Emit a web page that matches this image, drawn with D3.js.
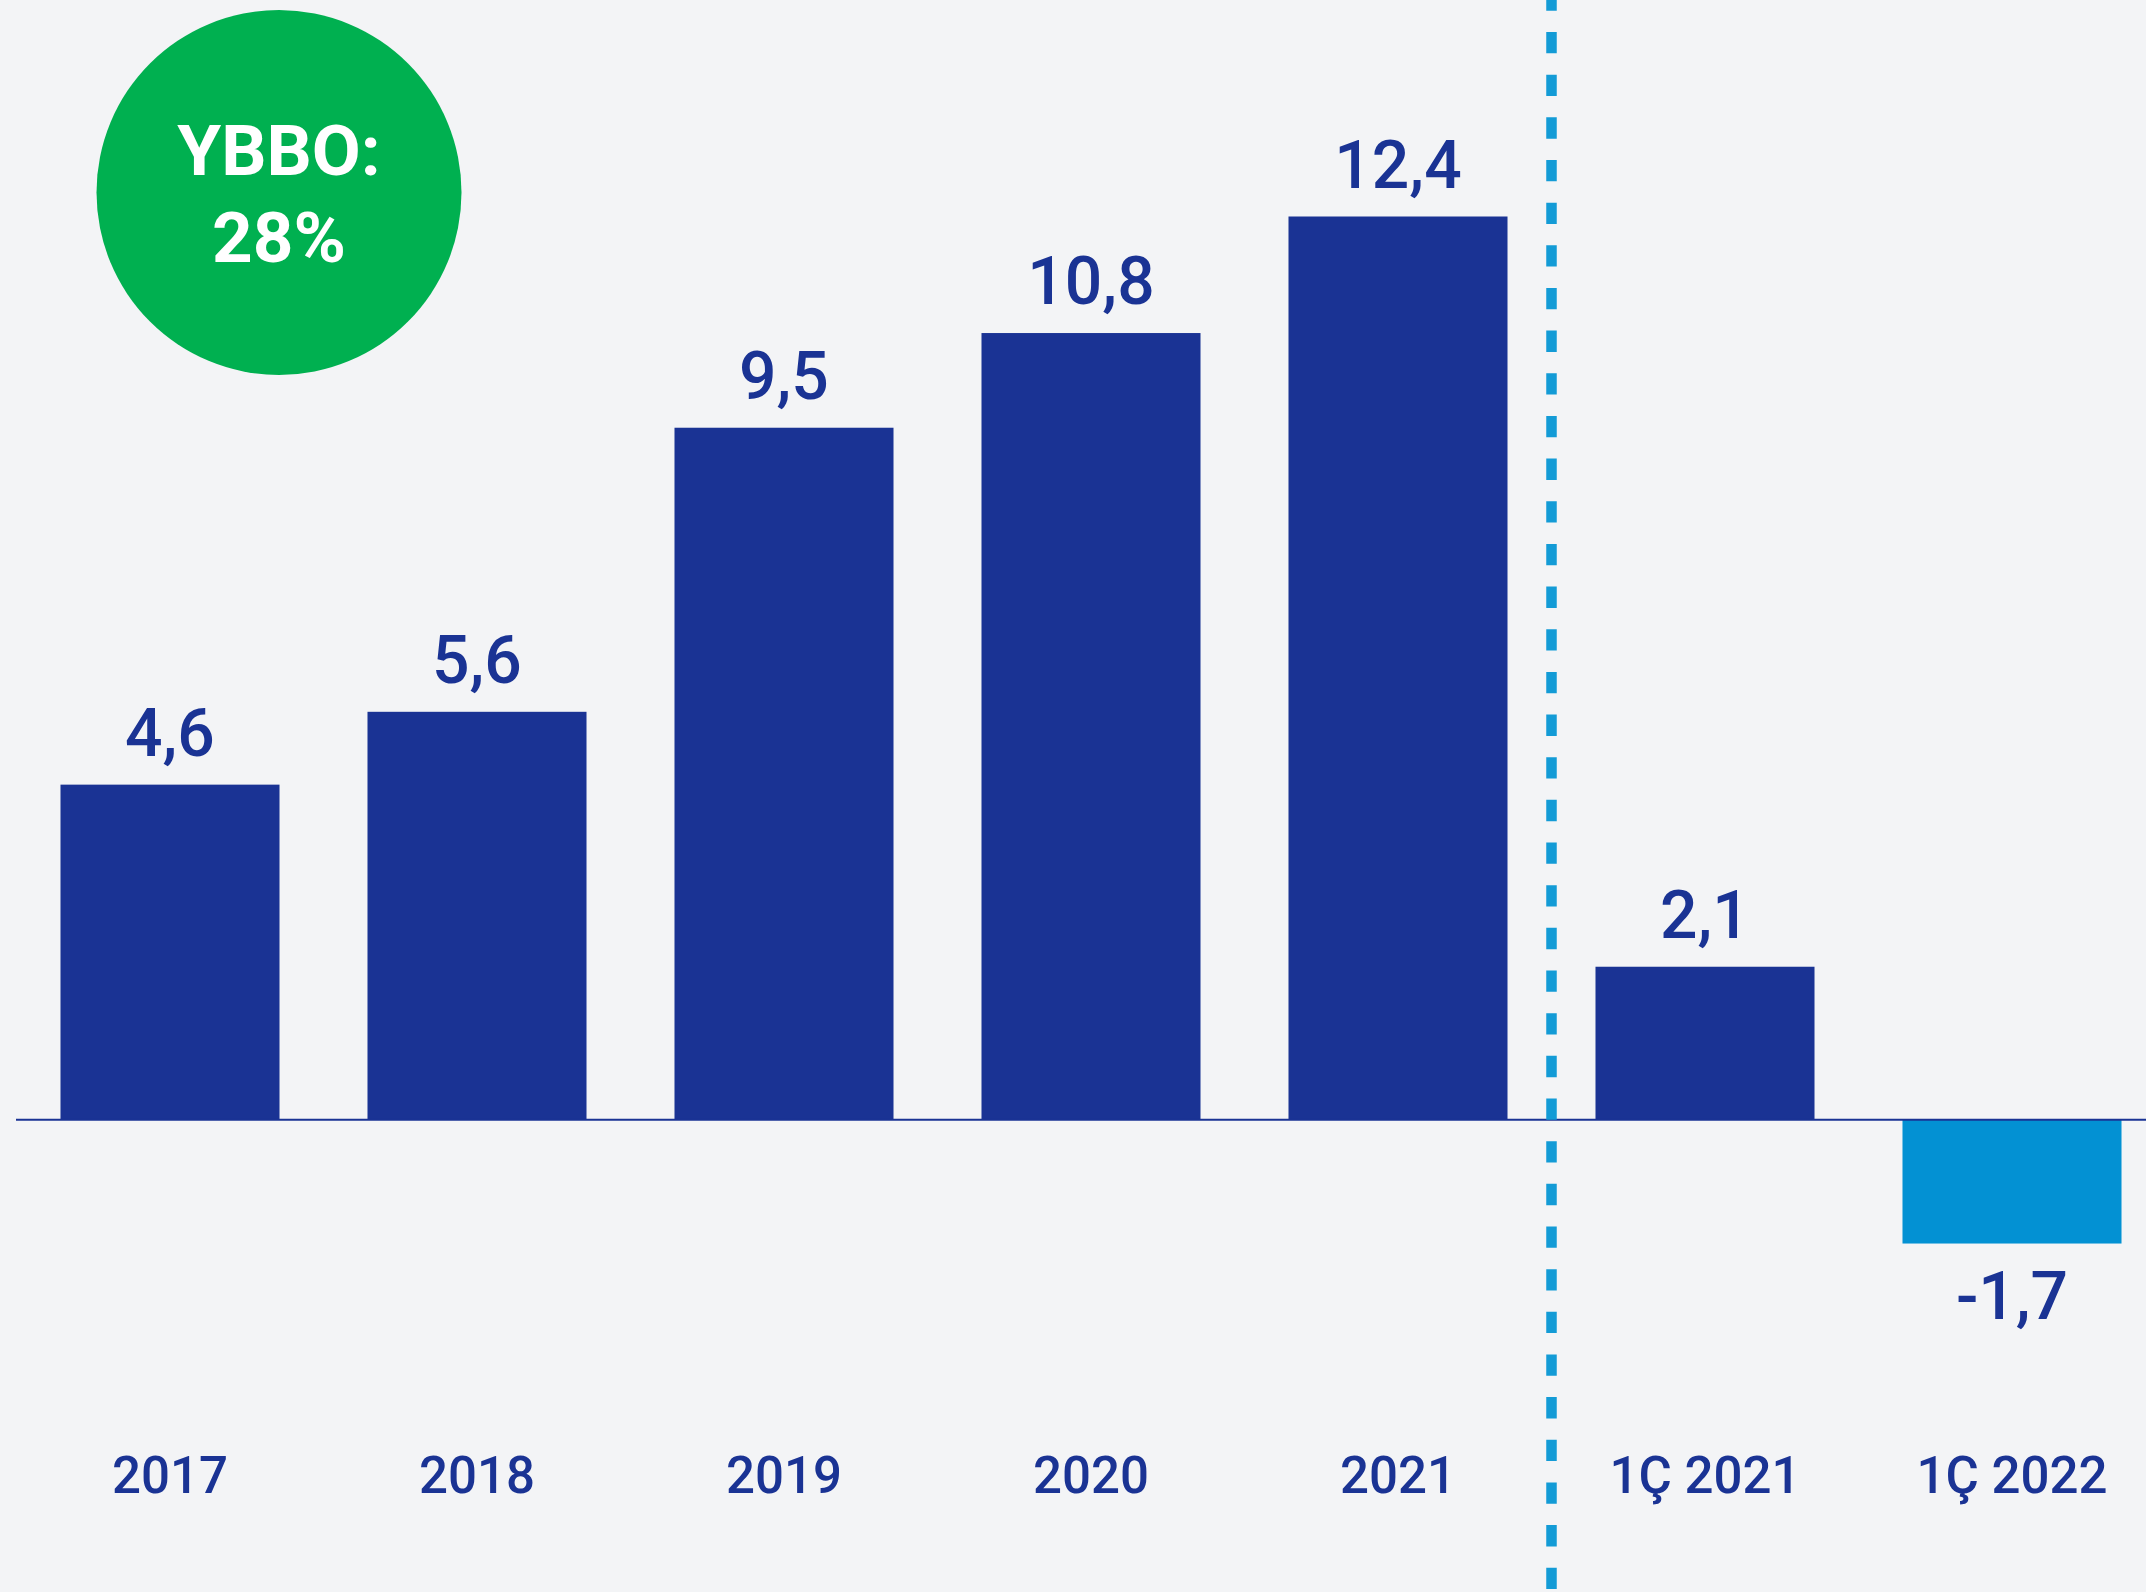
<!DOCTYPE html>
<html>
<head>
<meta charset="utf-8">
<script src="https://cdn.jsdelivr.net/npm/d3@7"></script>
<style>
  html, body { margin: 0; padding: 0; background: #f3f4f6; }
  svg { display: block; }
  text { font-family: Roboto, "Noto Sans", sans-serif; }
</style>
</head>
<body>
<svg id="chart" width="2146" height="1592"></svg>
<script>
// Net profit by period (billion), annual then first-quarter comparison
const categories = ["2017", "2018", "2019", "2020", "2021", "1Ç 2021", "1Ç 2022"];
const values = [4.6, 5.6, 9.5, 10.8, 12.4, 2.1, -1.7];
const valueLabels = ["4,6", "5,6", "9,5", "10,8", "12,4", "2,1", "-1,7"];
const badgeLines = ["YBBO:", "28%"];

const W = 2146, H = 1592;
const navy = "#1a3394", sky = "#0391d3", dashBlue = "#139bd6", green = "#00b050";

const svg = d3.select("#chart");
svg.append("rect").attr("width", W).attr("height", H).attr("fill", "#f3f4f6");

const x = d3.scaleBand()
  .domain(categories)
  .range([16.5, 2165.5])
  .paddingInner(0.2866)
  .paddingOuter(0.1433);

const y = d3.scaleLinear()
  .domain([0, 12.4])
  .range([1119.7, 216.5]);

// bars
svg.append("g").selectAll("rect")
  .data(categories)
  .join("rect")
  .attr("x", d => x(d))
  .attr("width", x.bandwidth())
  .attr("y", (d, i) => Math.min(y(values[i]), y(0)))
  .attr("height", (d, i) => Math.abs(y(values[i]) - y(0)))
  .attr("fill", (d, i) => values[i] < 0 ? sky : navy);

// zero baseline
svg.append("line")
  .attr("x1", 16).attr("x2", W)
  .attr("y1", y(0)).attr("y2", y(0))
  .attr("stroke", navy).attr("stroke-width", 2);

// divider between annual and quarterly figures
const divX = (x("2021") + x.bandwidth() + x("1Ç 2021")) / 2;
svg.append("line")
  .attr("x1", divX).attr("x2", divX)
  .attr("y1", 0).attr("y2", H)
  .attr("stroke", dashBlue)
  .attr("stroke-width", 10.5)
  .attr("stroke-dasharray", "21.33 21.33")
  .attr("stroke-dashoffset", 10.67);

// value labels
svg.append("g").selectAll("text")
  .data(categories)
  .join("text")
  .attr("x", d => x(d) + x.bandwidth() / 2)
  .attr("y", (d, i) => values[i] < 0 ? y(values[i]) + 28 + 47.5 : y(values[i]) - 29)
  .attr("text-anchor", "middle")
  .attr("font-size", 66)
  .attr("font-weight", 500)
  .attr("fill", navy)
  .text((d, i) => valueLabels[i]);

// category axis
const axis = d3.axisBottom(x).tickSize(0).tickPadding(0);
const axisG = svg.append("g")
  .attr("transform", "translate(0,1493.3)")
  .call(axis);
axisG.select(".domain").remove();
axisG.selectAll("text")
  .attr("dy", 0)
  .attr("y", 0)
  .attr("font-size", 51)
  .attr("font-weight", 500)
  .attr("font-family", "Roboto, 'Noto Sans', sans-serif")
  .attr("fill", navy);

// growth badge
const badge = svg.append("g");
badge.append("circle")
  .attr("cx", 279).attr("cy", 192.5).attr("r", 182.5)
  .attr("fill", green);
badge.selectAll("text")
  .data(badgeLines)
  .join("text")
  .attr("x", 279)
  .attr("y", (d, i) => 174.7 + i * 87.3)
  .attr("text-anchor", "middle")
  .attr("font-size", 71)
  .attr("font-weight", 700)
  .attr("fill", "#ffffff")
  .text(d => d);
</script>
</body>
</html>
